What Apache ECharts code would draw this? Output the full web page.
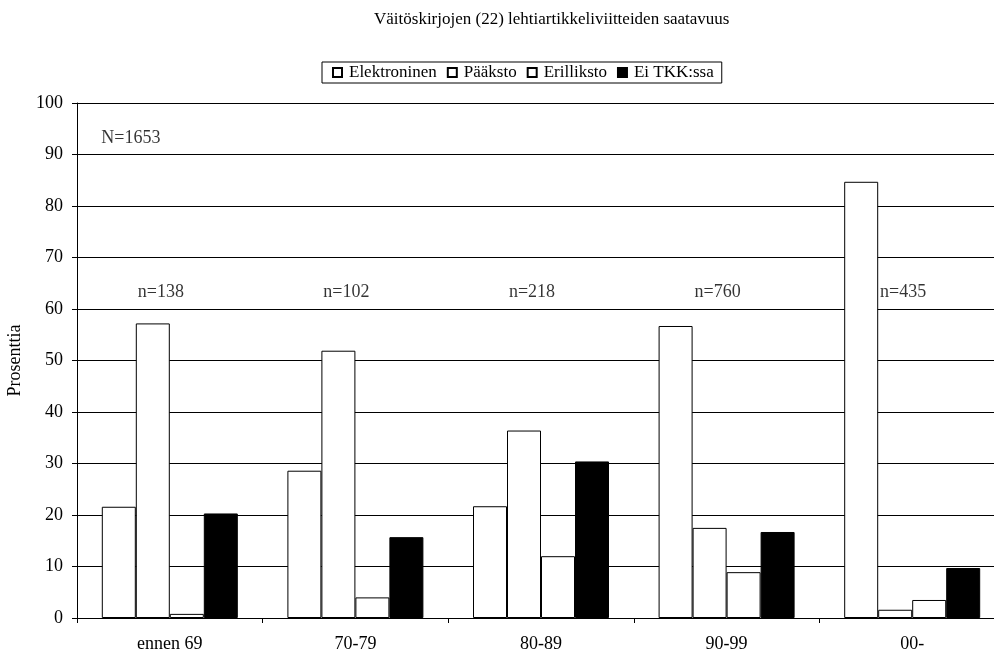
<!DOCTYPE html>
<html><head><meta charset="utf-8">
<script src="https://cdn.jsdelivr.net/npm/echarts@6/dist/echarts.min.js"></script>
<style>html,body{margin:0;padding:0;background:#fff}#c{width:994px;height:655px}</style>
</head><body><div id="c"></div>
<script>
const categories = ['ennen 69', '70-79', '80-89', '90-99', '00-'];
const elektroninen = [21.6, 28.6, 21.7, 56.7, 84.7];
const paakokoelma = [57.2, 51.9, 36.4, 17.5, 1.6];
const erilliskokoelma = [0.8, 4.0, 12.0, 8.9, 3.5];
const eiTKK = [20.3, 15.7, 30.4, 16.7, 9.7];
const nLabels = ['n=138', 'n=102', 'n=218', 'n=760', 'n=435'];
const nLabelLevel = 63.3;
const totalLabel = 'N=1653';
const totalLevel = 93.2;
const yTicks = [0,10,20,30,40,50,60,70,80,90,100];

const font = "'Liberation Serif', 'Times New Roman', serif";
const chart = echarts.init(document.getElementById('c'));
function barSeries(name, data, fill) {
  return {
    name, type: 'bar', data, barWidth: 34, barGap: '0%',
    itemStyle: { color: fill, borderColor: '#000', borderWidth: 1 },
    emphasis: { disabled: true }
  };
}
const txt = (size) => ({ fontFamily: font, fontSize: size, color: '#000', fontWeight: 'normal' });
chart.setOption({
  animation: false,
  textStyle: { fontFamily: font, color: '#000' },
  title: {
    text: 'Väitöskirjojen (22) lehtiartikkeliviitteiden saatavuus',
    left: 369, top: 6,
    textStyle: txt(17)
  },
  legend: {
    data: ['Elektroninen', 'Pääksto', 'Erilliksto', 'Ei TKK:ssa'],
    left: 322, top: 62,
    borderColor: '#000', borderWidth: 1, borderRadius: 0,
    padding: [2, 8, 2, 10],
    itemWidth: 9, itemHeight: 9, itemGap: 10,
    icon: 'rect',
    textStyle: Object.assign(txt(17), { padding: [0, 0, 0, 2] }),
    selectedMode: false
  },
  grid: { left: 77, top: 103, width: 928, height: 515, outerBoundsMode: 'none', containLabel: false },
  xAxis: {
    type: 'category', data: categories,
    axisLine: { lineStyle: { color: '#000', width: 1 } },
    axisTick: { show: true, length: 5, lineStyle: { color: '#000' } },
    axisLabel: Object.assign(txt(18), { margin: 17 })
  },
  yAxis: {
    type: 'value', min: 0, max: 100, interval: 10,
    name: 'Prosenttia', nameLocation: 'middle', nameRotate: 90, nameGap: 53,
    nameTextStyle: txt(18),
    axisLine: { show: true, lineStyle: { color: '#000', width: 1 } },
    axisTick: { show: true, length: 5, lineStyle: { color: '#000' } },
    axisLabel: Object.assign(txt(18), { margin: 14,
      formatter: v => yTicks.includes(v) ? String(v) : '' }),
    splitLine: { lineStyle: { color: '#000', width: 1 } }
  },
  series: [
    barSeries('Elektroninen', elektroninen, '#fff'),
    barSeries('Pääksto', paakokoelma, '#fff'),
    barSeries('Erilliksto', erilliskokoelma, '#fff'),
    barSeries('Ei TKK:ssa', eiTKK, '#000'),
    {
      type: 'scatter', symbolSize: 0, silent: true, tooltip: { show: false },
      data: nLabels.map((t, i) => ({ value: [categories[i], nLabelLevel], name: t })),
      label: Object.assign(txt(18), { show: true, formatter: p => p.name, position: 'inside', offset: [-9, 0] })
    },
    {
      type: 'scatter', symbolSize: 0, silent: true,
      data: [{ value: [categories[0], totalLevel], name: totalLabel }],
      label: Object.assign(txt(18), { show: true, formatter: p => p.name, position: 'inside', offset: [-39, 0] })
    }
  ]
});
</script></body></html>
